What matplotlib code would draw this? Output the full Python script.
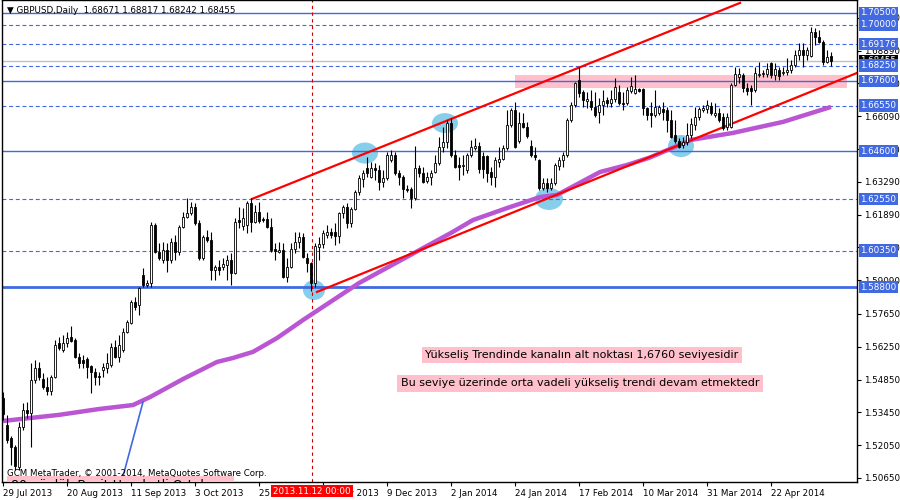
import numpy as np
import matplotlib
matplotlib.use("Agg")
import matplotlib.pyplot as plt
from matplotlib.patches import Ellipse, Rectangle

plt.rcParams['font.family'] = ['DejaVu Sans']

# --- daily GBPUSD candles, bar index = trading day ---
opens = [1.5406, 1.5291, 1.5235, 1.5197, 1.5112, 1.5282, 1.5355, 1.5342, 1.5483, 1.5534,
         1.5487, 1.5453, 1.5436, 1.5496, 1.5641, 1.5611, 1.5641, 1.5667, 1.5654, 1.5581,
         1.5568, 1.5573, 1.5543, 1.5517, 1.5500, 1.5526, 1.5534, 1.5547, 1.5624, 1.5581,
         1.5611, 1.5688, 1.5726, 1.5816, 1.5803, 1.5931, 1.5889, 1.5897, 1.6145, 1.6030,
         1.5995, 1.6038, 1.5995, 1.6072, 1.6030, 1.6136, 1.6179, 1.6196, 1.6222, 1.6153,
         1.6004, 1.6094, 1.6081, 1.5953, 1.5965, 1.5965, 1.5974, 1.5995, 1.5940, 1.6166,
         1.6141, 1.6145, 1.6239, 1.6158, 1.6200, 1.6170, 1.6170, 1.6136, 1.6042, 1.6030,
         1.6038, 1.5923, 1.5965, 1.6042, 1.6072, 1.6094, 1.6004, 1.5983, 1.5897, 1.6051,
         1.6064, 1.6102, 1.6115, 1.6115, 1.6098, 1.6196, 1.6222, 1.6153, 1.6213, 1.6286,
         1.6341, 1.6388, 1.6350, 1.6388, 1.6380, 1.6328, 1.6345, 1.6422, 1.6444, 1.6367,
         1.6350, 1.6299, 1.6299, 1.6261, 1.6388, 1.6367, 1.6333, 1.6350, 1.6371, 1.6410,
         1.6478, 1.6499, 1.6581, 1.6444, 1.6401, 1.6397, 1.6380, 1.6444, 1.6474, 1.6482,
         1.6439, 1.6439, 1.6371, 1.6350, 1.6414, 1.6427, 1.6474, 1.6572, 1.6636, 1.6503,
         1.6581, 1.6563, 1.6482, 1.6444, 1.6422, 1.6303, 1.6324, 1.6303, 1.6324, 1.6397,
         1.6422, 1.6444, 1.6593, 1.6657, 1.6764, 1.6713, 1.6674, 1.6674, 1.6649, 1.6627,
         1.6657, 1.6679, 1.6666, 1.6683, 1.6713, 1.6666, 1.6666, 1.6717, 1.6709, 1.6726,
         1.6726, 1.6644, 1.6623, 1.6615, 1.6623, 1.6640, 1.6636, 1.6593, 1.6529, 1.6503,
         1.6486, 1.6499, 1.6529, 1.6572, 1.6606, 1.6636, 1.6640, 1.6653, 1.6615, 1.6623,
         1.6606, 1.6563, 1.6563, 1.6743, 1.6777, 1.6786, 1.6730, 1.6730, 1.6721, 1.6786,
         1.6790, 1.6790, 1.6837, 1.6786, 1.6807, 1.6794, 1.6798, 1.6807, 1.6828, 1.6871,
         1.6892, 1.6871, 1.6866, 1.6969, 1.6948, 1.6926, 1.6841, 1.68671]
highs = [1.5432, 1.5333, 1.5244, 1.5205, 1.5304, 1.5385, 1.5389, 1.5556, 1.5568, 1.5560,
         1.5513, 1.5496, 1.5504, 1.5654, 1.5667, 1.5675, 1.5688, 1.5714, 1.5662, 1.5598,
         1.5590, 1.5581, 1.5547, 1.5534, 1.5517, 1.5556, 1.5598, 1.5641, 1.5654, 1.5675,
         1.5705, 1.5739, 1.5825, 1.5837, 1.5880, 1.5961, 1.5910, 1.6158, 1.6153, 1.6068,
         1.6072, 1.6068, 1.6089, 1.6102, 1.6145, 1.6200, 1.6261, 1.6243, 1.6239, 1.6166,
         1.6102, 1.6123, 1.6115, 1.5974, 1.5995, 1.6004, 1.6017, 1.6025, 1.6175, 1.6222,
         1.6217, 1.6247, 1.6261, 1.6230, 1.6243, 1.6179, 1.6200, 1.6175, 1.6068, 1.6072,
         1.6068, 1.6004, 1.6068, 1.6115, 1.6115, 1.6111, 1.6025, 1.5987, 1.6068, 1.6094,
         1.6123, 1.6145, 1.6132, 1.6153, 1.6200, 1.6230, 1.6239, 1.6222, 1.6295, 1.6358,
         1.6380, 1.6435, 1.6414, 1.6410, 1.6401, 1.6380, 1.6457, 1.6465, 1.6457, 1.6380,
         1.6358, 1.6316, 1.6307, 1.6482, 1.6401, 1.6393, 1.6371, 1.6380, 1.6444, 1.6521,
         1.6563, 1.6593, 1.6602, 1.6465, 1.6435, 1.6444, 1.6452, 1.6508, 1.6516, 1.6499,
         1.6457, 1.6444, 1.6393, 1.6435, 1.6478, 1.6486, 1.6636, 1.6644, 1.6670, 1.6627,
         1.6623, 1.6585, 1.6508, 1.6478, 1.6427, 1.6345, 1.6345, 1.6345, 1.6410, 1.6435,
         1.6457, 1.6602, 1.6670, 1.6755, 1.6819, 1.6721, 1.6713, 1.6721, 1.6713, 1.6687,
         1.6721, 1.6691, 1.6721, 1.6772, 1.6743, 1.6713, 1.6734, 1.6777, 1.6786, 1.6730,
         1.6730, 1.6649, 1.6670, 1.6721, 1.6657, 1.6670, 1.6649, 1.6636, 1.6593, 1.6516,
         1.6521, 1.6581, 1.6602, 1.6649, 1.6649, 1.6657, 1.6679, 1.6670, 1.6666, 1.6644,
         1.6623, 1.6623, 1.6751, 1.6819, 1.6815, 1.6794, 1.6751, 1.6743, 1.6819, 1.6841,
         1.6807, 1.6837, 1.6841, 1.6837, 1.6819, 1.6819, 1.6858, 1.6849, 1.6892, 1.6922,
         1.6922, 1.6905, 1.6990, 1.6986, 1.6977, 1.6935, 1.6892, 1.68817]
lows = [1.5312, 1.5214, 1.5120, 1.5099, 1.5099, 1.5269, 1.5321, 1.5197, 1.5470, 1.5483,
        1.5445, 1.5419, 1.5419, 1.5491, 1.5611, 1.5603, 1.5624, 1.5645, 1.5577, 1.5534,
        1.5534, 1.5491, 1.5427, 1.5462, 1.5462, 1.5496, 1.5513, 1.5538, 1.5577, 1.5560,
        1.5603, 1.5684, 1.5722, 1.5782, 1.5760, 1.5880, 1.5880, 1.5880, 1.6025, 1.5995,
        1.5983, 1.5944, 1.5983, 1.5995, 1.6017, 1.6132, 1.6175, 1.6187, 1.6145, 1.5995,
        1.5995, 1.6072, 1.5910, 1.5910, 1.5931, 1.5953, 1.5910, 1.5889, 1.5936, 1.6132,
        1.6123, 1.6111, 1.6115, 1.6153, 1.6153, 1.6158, 1.6132, 1.6030, 1.5995, 1.6025,
        1.5918, 1.5901, 1.5961, 1.6025, 1.6047, 1.6004, 1.5944, 1.5863, 1.5880, 1.5995,
        1.6047, 1.6089, 1.6089, 1.6059, 1.6068, 1.6175, 1.6132, 1.6136, 1.6209, 1.6273,
        1.6307, 1.6350, 1.6345, 1.6337, 1.6295, 1.6307, 1.6337, 1.6414, 1.6358, 1.6316,
        1.6261, 1.6286, 1.6217, 1.6252, 1.6350, 1.6324, 1.6324, 1.6316, 1.6367, 1.6401,
        1.6457, 1.6474, 1.6435, 1.6388, 1.6337, 1.6358, 1.6367, 1.6435, 1.6465, 1.6367,
        1.6345, 1.6328, 1.6316, 1.6307, 1.6393, 1.6422, 1.6465, 1.6563, 1.6474, 1.6495,
        1.6559, 1.6516, 1.6435, 1.6422, 1.6295, 1.6295, 1.6286, 1.6295, 1.6316, 1.6380,
        1.6393, 1.6435, 1.6585, 1.6649, 1.6691, 1.6649, 1.6644, 1.6636, 1.6606, 1.6581,
        1.6615, 1.6649, 1.6649, 1.6670, 1.6657, 1.6636, 1.6657, 1.6709, 1.6704, 1.6713,
        1.6615, 1.6593, 1.6563, 1.6606, 1.6615, 1.6593, 1.6542, 1.6516, 1.6495, 1.6474,
        1.6474, 1.6486, 1.6516, 1.6550, 1.6593, 1.6627, 1.6623, 1.6615, 1.6606, 1.6585,
        1.6550, 1.6550, 1.6559, 1.6738, 1.6751, 1.6713, 1.6700, 1.6657, 1.6713, 1.6777,
        1.6777, 1.6777, 1.6772, 1.6764, 1.6764, 1.6786, 1.6786, 1.6794, 1.6819, 1.6849,
        1.6819, 1.6849, 1.6862, 1.6913, 1.6922, 1.6828, 1.6837, 1.68242]
closes = [1.5338, 1.5227, 1.5197, 1.5116, 1.5282, 1.5355, 1.5342, 1.5483, 1.5534, 1.5496,
          1.5453, 1.5436, 1.5496, 1.5632, 1.5620, 1.5641, 1.5662, 1.5649, 1.5581, 1.5556,
          1.5556, 1.5538, 1.5517, 1.5496, 1.5496, 1.5538, 1.5556, 1.5624, 1.5581, 1.5632,
          1.5688, 1.5731, 1.5816, 1.5795, 1.5876, 1.5889, 1.5897, 1.6145, 1.6030, 1.6004,
          1.6038, 1.5995, 1.6072, 1.6030, 1.6136, 1.6179, 1.6196, 1.6222, 1.6153, 1.6004,
          1.6094, 1.6081, 1.5953, 1.5965, 1.5953, 1.5978, 1.5995, 1.5940, 1.6158, 1.6158,
          1.6175, 1.6239, 1.6158, 1.6200, 1.6162, 1.6166, 1.6136, 1.6038, 1.6034, 1.6038,
          1.5923, 1.5965, 1.6042, 1.6072, 1.6094, 1.6008, 1.5983, 1.5897, 1.6055, 1.6064,
          1.6111, 1.6115, 1.6102, 1.6098, 1.6196, 1.6222, 1.6153, 1.6213, 1.6286, 1.6345,
          1.6367, 1.6367, 1.6388, 1.6380, 1.6328, 1.6345, 1.6444, 1.6444, 1.6367, 1.6350,
          1.6299, 1.6295, 1.6261, 1.6388, 1.6367, 1.6328, 1.6350, 1.6367, 1.6410, 1.6478,
          1.6499, 1.6581, 1.6444, 1.6393, 1.6393, 1.6401, 1.6444, 1.6478, 1.6482, 1.6384,
          1.6384, 1.6367, 1.6350, 1.6422, 1.6427, 1.6474, 1.6572, 1.6636, 1.6478, 1.6581,
          1.6563, 1.6525, 1.6444, 1.6435, 1.6303, 1.6324, 1.6303, 1.6324, 1.6401, 1.6422,
          1.6444, 1.6593, 1.6657, 1.6751, 1.6709, 1.6679, 1.6683, 1.6649, 1.6615, 1.6657,
          1.6674, 1.6666, 1.6683, 1.6734, 1.6666, 1.6661, 1.6721, 1.6738, 1.6726, 1.6717,
          1.6644, 1.6615, 1.6615, 1.6649, 1.6649, 1.6627, 1.6593, 1.6521, 1.6503, 1.6478,
          1.6499, 1.6529, 1.6576, 1.6606, 1.6640, 1.6644, 1.6657, 1.6623, 1.6623, 1.6593,
          1.6559, 1.6606, 1.6743, 1.6790, 1.6790, 1.6730, 1.6717, 1.6717, 1.6794, 1.6790,
          1.6794, 1.6811, 1.6786, 1.6811, 1.6781, 1.6798, 1.6807, 1.6828, 1.6871, 1.6892,
          1.6871, 1.6892, 1.6969, 1.6948, 1.6926, 1.6841, 1.6862, 1.68455]

# 80 day simple moving average, vertices
ma_bars = [0, 7, 14, 24, 32.5, 36.75, 45, 53.5, 57.5, 62.5, 68.5, 75, 89, 112, 117.5,
           126, 134.25, 138.5, 149.25, 156, 161.75, 172, 182.5, 195, 207]
ma_vals = [1.5308, 1.5321, 1.5334, 1.5359, 1.5376, 1.5410, 1.5487, 1.5560, 1.5577, 1.5603,
           1.5662, 1.5739, 1.5897, 1.6111, 1.6166, 1.6217, 1.6264, 1.6273, 1.6371, 1.6401,
           1.6433, 1.6508, 1.6538, 1.6585, 1.6649]

# horizontal levels: (price, solid?)
levels = [1.70500, 1.70000, 1.69176, 1.68250, 1.67600, 1.66550, 1.64600, 1.62550, 1.60350, 1.58800]
level_solid = [True, False, False, False, True, False, True, False, False, True]
bid_price = 1.68455

# channel lines (bar index, price)
upper_channel = [(62.25, 1.6256), (184.25, 1.7093)]
lower_channel = [(78.5, 1.5859), (213.5, 1.6794)]
blue_trend = [(29.75, 1.5056), (35.0, 1.5389)]

price_ticks = [1.50650, 1.52050, 1.53450, 1.54850, 1.56250, 1.57650, 1.59090, 1.60490,
               1.61890, 1.63290, 1.64690, 1.66090, 1.67490, 1.68890, 1.70290]
date_ticks = [0, 16, 32, 48, 64, 80, 96, 112, 128, 144, 160, 176, 192]
date_labels = ["29 Jul 2013", "20 Aug 2013", "11 Sep 2013", "3 Oct 2013", "25 Oct 2013",
               "18 Nov 2013", "9 Dec 2013", "2 Jan 2014", "24 Jan 2014", "17 Feb 2014",
               "10 Mar 2014", "31 Mar 2014", "22 Apr 2014"]

BLUE = '#4169E1'
PINK = '#FFC0CB'

fig = plt.figure(figsize=(9, 5), dpi=100)
ax = fig.add_axes([2 / 900, 18 / 500, 855 / 900, 482 / 500])
ax.set_xlim(-0.25, 213.5)
ax.set_ylim(1.50474, 1.71055)

# support zone + touch points
ax.add_patch(Rectangle((128, 1.6730), 83, 0.0055, fc=PINK, ec='none', zorder=0.5))
for cx, cy, w, h in [(77.75, 1.5867, 5.5, 0.0085), (90.5, 1.6452, 6.5, 0.0090),
                     (110.5, 1.6580, 6.5, 0.0085), (136.5, 1.6256, 7.0, 0.0094),
                     (169.5, 1.6482, 6.5, 0.0094)]:
    ax.add_patch(Ellipse((cx, cy), w, h, fc='#87CEEB', ec='none', zorder=0.6))

# horizontal levels
for lv, solid in zip(levels, level_solid):
    if solid:
        ax.axhline(lv, color=BLUE, lw=2 if lv == 1.588 else 1.0, zorder=1)
    else:
        ax.axhline(lv, color=BLUE, lw=0.8, dashes=(3.5, 2.5), zorder=1)
ax.axhline(bid_price, color='#C0C0C0', lw=1, zorder=1)

# crosshair
ax.axvline(77.25, color='#CC0000', lw=0.8, dashes=(3, 3), zorder=1)

# moving average and trend lines
ax.plot(ma_bars, ma_vals, color='#BA55D3', lw=3.2, solid_capstyle='butt',
        solid_joinstyle='round', zorder=2)
for seg in (upper_channel, lower_channel):
    ax.plot([p[0] for p in seg], [p[1] for p in seg], color='red', lw=1.6, zorder=2.2)
ax.plot([p[0] for p in blue_trend], [p[1] for p in blue_trend], color=BLUE, lw=1.2, zorder=2)

# candles
idx = np.arange(len(opens))
o = np.array(opens)
c = np.array(closes)
ax.vlines(idx, lows, highs, color='black', lw=0.8, zorder=3)
bottoms = np.minimum(o, c)
heights = np.maximum(np.abs(c - o), 0.00005)
colors = ['white' if cc >= oo else 'black' for oo, cc in zip(o, c)]
ax.bar(idx, heights, bottom=bottoms, width=0.7, color=colors, edgecolor='black',
       linewidth=0.6, zorder=3.5)

# axes styling
for s in ax.spines.values():
    s.set_color('black')
    s.set_linewidth(1)
ax.yaxis.tick_right()
ax.set_yticks(price_ticks)
ax.set_yticklabels([f"{p:.5f}" for p in price_ticks])
ax.set_xticks(date_ticks)
ax.set_xticklabels(date_labels)
for lab in ax.get_xticklabels():
    lab.set_ha('left')
ax.tick_params(axis='y', labelsize=6.3, length=3, pad=2, direction='out')
ax.tick_params(axis='x', labelsize=6.3, length=3, pad=2, direction='out')

# price labels on the right
ytr = ax.get_yaxis_transform()
ax.text(1.004, bid_price, f"{bid_price:.5f}", transform=ytr, color='white', fontsize=6.3,
        va='center', ha='left', clip_on=False, zorder=9,
        bbox=dict(boxstyle='square,pad=0.2', fc='black', ec='none'))
for lv in levels:
    ax.text(1.004, lv, f"{lv:.5f}", transform=ytr, color='white', fontsize=6.3,
            va='center', ha='left', clip_on=False, zorder=10,
            bbox=dict(boxstyle='square,pad=0.2', fc=BLUE, ec='none'))

# crosshair date label
xtr = ax.get_xaxis_transform()
ax.text(77.25, -0.019, "2013.11.12 00:00", transform=xtr, color='white', fontsize=6.3,
        va='center', ha='center', clip_on=False, zorder=10,
        bbox=dict(boxstyle='square,pad=0.2', fc='red', ec='none'))

# header / notes
ax.text(0.006, 0.979, "\u25bc GBPUSD,Daily  1.68671 1.68817 1.68242 1.68455",
        transform=ax.transAxes, fontsize=6.3, va='center', ha='left', zorder=10)
ax.text(0.678, 0.2635, "Yükseliş Trendinde kanalın alt noktası 1,6760 seviyesidir",
        transform=ax.transAxes, fontsize=8, va='center', ha='center', zorder=10,
        bbox=dict(boxstyle='square,pad=0.3', fc=PINK, ec='none'))
ax.text(0.676, 0.205, "Bu seviye üzerinde orta vadeli yükseliş trendi devam etmektedr",
        transform=ax.transAxes, fontsize=8, va='center', ha='center', zorder=10,
        bbox=dict(boxstyle='square,pad=0.3', fc=PINK, ec='none'))
# moving-average note, mostly hidden below the chart edge
ax.text(0.01, -0.008, "80 günlük Basit Hareketli Ortalama", transform=ax.transAxes,
        fontsize=9, va='center', ha='left', zorder=9, clip_on=True,
        bbox=dict(boxstyle='square,pad=0.25', fc=PINK, ec='none'))
ax.text(0.006, 0.0166, "GCM MetaTrader, © 2001-2014, MetaQuotes Software Corp.",
        transform=ax.transAxes, fontsize=6.2, va='center', ha='left', zorder=11)

fig.savefig("out.png", dpi=100, facecolor='white')
